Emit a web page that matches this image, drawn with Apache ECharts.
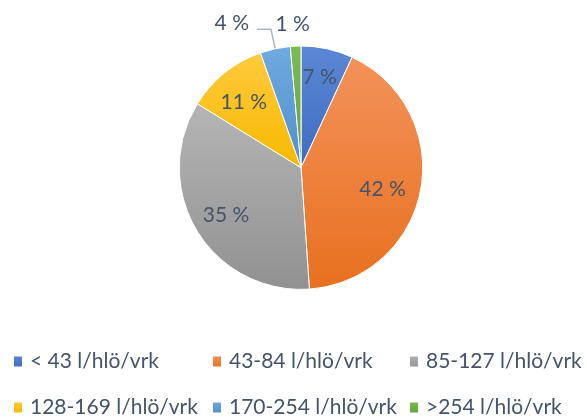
<!DOCTYPE html>
<html>
<head>
<meta charset="utf-8">
<script src="https://cdn.jsdelivr.net/npm/echarts@6/dist/echarts.min.js"></script>
<style>
html,body{margin:0;padding:0;background:#fff;}
#c{width:587px;height:417px;}
</style>
</head>
<body>
<div id="c"></div>
<script>
const categories = ['< 43 l/hlö/vrk', '43-84 l/hlö/vrk', '85-127 l/hlö/vrk', '128-169 l/hlö/vrk', '170-254 l/hlö/vrk', '>254 l/hlö/vrk'];
const shares = [6.9, 42.0, 34.9, 10.8, 4.0, 1.4];

const gradients = [
  ['#5C87D6', '#3E6CBF'],
  ['#F3925A', '#E8701F'],
  ['#B5B5B5', '#919191'],
  ['#FFCA3D', '#F7B900'],
  ['#6FAAE0', '#4F90CC'],
  ['#7DBB54', '#62A03C']
];
const FONT = 'Lato';
const TXT = '#44546A';
const innerLabelNudge = [[-1, -2], [-8, 5], [3, 0], [0, 5]];

function grad(i) {
  return new echarts.graphic.LinearGradient(0, 0, 0, 1, [
    { offset: 0, color: gradients[i][0] },
    { offset: 1, color: gradients[i][1] }
  ]);
}
function pctLabel(p) { return Math.round(p.percent) + ' %'; }

const mainData = categories.map((name, i) => {
  const item = { name: name, value: shares[i], itemStyle: { color: grad(i) } };
  if (i === 4) {
    item.label = { show: true, position: 'outside' };
    item.labelLine = { show: true, length: 20, length2: 14 };
  } else if (i === 5) {
    item.label = { show: true, position: 'outside' };
    item.labelLine = { show: false, length: 20, length2: -20 };
  }
  return item;
});

const innerData = categories.map((name, i) => ({
  name: name, value: shares[i],
  label: { show: i < 4 }
}));

const chart = echarts.init(document.getElementById('c'), null, { renderer: 'canvas' });

function legendCol(names, left) {
  return {
    orient: 'vertical', left: left, top: 351, height: 120, width: 200, padding: 0,
    data: names, icon: 'rect', itemWidth: 10, itemHeight: 12, itemGap: 25,
    selectedMode: false,
    textStyle: { fontFamily: FONT, fontSize: 21, color: TXT, lineHeight: 20, padding: [0, 0, 0, 2] }
  };
}

chart.setOption({
  animation: false,
  color: gradients.map(g => g[1]),
  legend: [
    legendCol([categories[0], categories[3]], 12),
    legendCol([categories[1], categories[4]], 211),
    legendCol([categories[2], categories[5]], 408)
  ],
  series: [
    {
      type: 'pie',
      center: [301, 167.7],
      radius: [0, 121.7],
      startAngle: 90,
      clockwise: true,
      avoidLabelOverlap: false,
      itemStyle: { borderColor: '#ffffff', borderWidth: 1 },
      label: { show: false, formatter: pctLabel, fontFamily: FONT, fontSize: 21, color: TXT },
      labelLine: { lineStyle: { color: '#A9B7C9', width: 1.5 } },
      labelLayout: function (p) { return p.dataIndex === 4 ? { dx: -3, dy: -6 } : { dy: -2 }; },
      emphasis: { disabled: true },
      data: mainData
    },
    {
      type: 'pie',
      center: [301, 167.7],
      radius: [0, 176],
      startAngle: 90,
      clockwise: true,
      silent: true,
      avoidLabelOverlap: false,
      itemStyle: { color: 'rgba(0,0,0,0)' },
      label: { show: true, position: 'inside', formatter: pctLabel, fontFamily: FONT, fontSize: 21, color: TXT },
      labelLine: { show: false },
      labelLayout: function (p) {
        const n = innerLabelNudge[p.dataIndex] || [0, 0];
        return { dx: n[0], dy: n[1] };
      },
      emphasis: { disabled: true },
      data: innerData
    }
  ]
});
</script>
</body>
</html>
